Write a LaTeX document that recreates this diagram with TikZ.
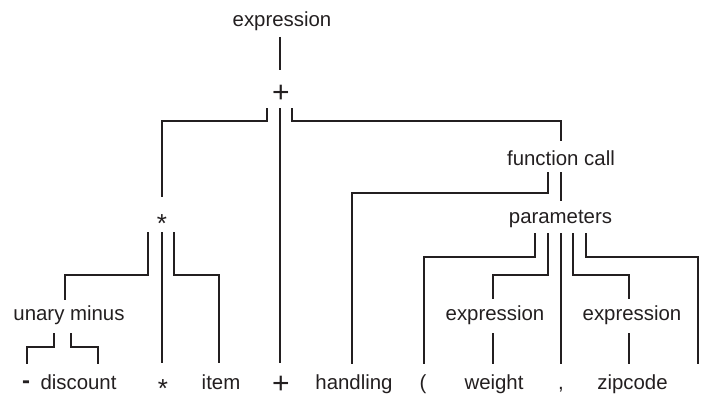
\documentclass[tikz,border=0pt]{standalone}
\usepackage{fontspec}
\setmainfont{Liberation Sans}
\usetikzlibrary{calc}
\definecolor{ink}{RGB}{35,31,32}
\begin{document}
\begin{tikzpicture}[x=1pt,y=-1pt,
  lbl/.style={inner sep=0pt,anchor=base,text=ink,font=\fontsize{20.4}{24}\selectfont},
  bigplus/.style={lbl,font=\fontsize{30}{30}\selectfont},
  bigstar/.style={lbl,font=\fontsize{26}{26}\selectfont},
  hyph/.style={lbl,font=\fontsize{24}{24}\selectfont\bfseries},
  conn/.style={draw=ink,line width=1.3pt}]
\useasboundingbox (0,0) rectangle (701,396);
% nodes
\node[lbl] (e0) at (282,27) {expression};
\node[bigplus] (plus1) at (281,102) {+};
\node[lbl] (fc) at (561,165) {function call};
\node[bigstar] (star1) at (162,232.5) {*};
\node[lbl] (params) at (560.5,223) {parameters};
\node[lbl] (um) at (69,320) {unary minus};
\node[lbl] (ex1) at (495,320) {expression};
\node[lbl] (ex2) at (632,320) {expression};
\node[hyph] (minus) at (26,388) {-};
\node[lbl] (discount) at (78.5,389) {discount};
\node[bigstar] (star2) at (163,389) {\raisebox{-8pt}[11pt][0pt]{*}};
\node[lbl] (item) at (221,389) {item};
\node[bigplus] (plus2) at (281,389) {\raisebox{-4.5pt}[14pt][0pt]{+}};
\node[lbl] (handling) at (354,389) {handling};
\node[lbl] (lparen) at (423,389) {(};
\node[lbl] (weight) at (494,389) {weight};
\node[lbl] (comma) at (561,389) {,};
\node[lbl] (zip) at (632.5,389) {zipcode};
\coordinate (rp) at (698,364);
% connectors
\draw[conn] ($(e0.base)+(-2,10)$) -- ($(plus1.base)+(-1,-32)$);
\draw[conn] ($(plus1.base)+(-14,6)$) -- ++(0,13) -| ($(star1.base)+(0,-35.5)$);
\draw[conn] ($(plus1.base)+(-1,6)$) -- ($(plus2.base)+(-1,-26)$);
\draw[conn] ($(plus1.base)+(11,6)$) -- ++(0,13) -| ($(fc.base)+(0,-24)$);
\draw[conn] ($(fc.base)+(-13,7)$) -- ++(0,21) -| ($(handling.base)+(-2,-25)$);
\draw[conn] ($(fc.base)+(0,7)$) -- ($(params.base)+(0.5,-22)$);
\draw[conn] ($(star1.base)+(-14,-0.5)$) -- ++(0,43) -| ($(um.base)+(-4,-20)$);
\draw[conn] ($(star1.base)+(0,-0.5)$) -- ($(star2.base)+(-1,-26)$);
\draw[conn] ($(star1.base)+(12,-0.5)$) -- ++(0,43) -| ($(item.base)+(-2,-26)$);
\draw[conn] ($(um.base)+(-15,13)$) -- ++(0,14) -| ($(minus.base)+(1,-24)$);
\draw[conn] ($(um.base)+(2,13)$) -- ++(0,14) -| ($(discount.base)+(19.5,-25)$);
\draw[conn] ($(params.base)+(-25.5,10)$) -- ++(0,24) -| ($(lparen.base)+(1,-25)$);
\draw[conn] ($(params.base)+(-12.5,10)$) -- ++(0,42) -| ($(ex1.base)+(-2,-21)$);
\draw[conn] ($(params.base)+(0.5,10)$) -- ($(comma.base)+(0,-25)$);
\draw[conn] ($(params.base)+(12.5,10)$) -- ++(0,42) -| ($(ex2.base)+(-3,-21)$);
\draw[conn] ($(params.base)+(25.5,10)$) -- ++(0,24) -| (rp);
\draw[conn] ($(ex1.base)+(-2,13)$) -- ($(weight.base)+(-1,-25)$);
\draw[conn] ($(ex2.base)+(-3,13)$) -- ($(zip.base)+(-3.5,-25)$);
\end{tikzpicture}
\end{document}
